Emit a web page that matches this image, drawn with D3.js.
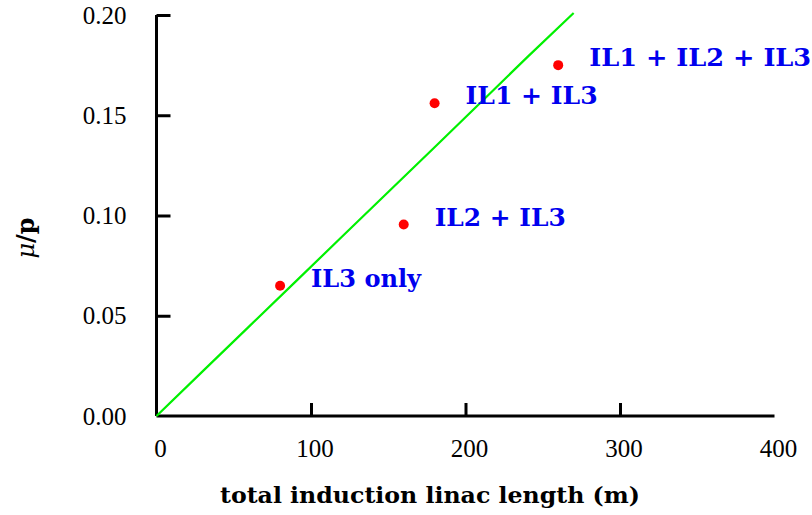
<!DOCTYPE html>
<html><head><meta charset="utf-8">
<script src="https://cdn.jsdelivr.net/npm/d3@7"></script>
<style>body{margin:0;background:#fff}svg{display:block}</style>
</head><body>
<svg id="c" width="812" height="515"></svg>
<script>
const xTicks = [0, 100, 200, 300, 400];
const yTicks = [0.00, 0.05, 0.10, 0.15, 0.20];
const lineX = [0, 30, 60, 90, 120, 150, 180, 210, 240, 270];
const lineY = [0, 0.0224, 0.0447, 0.067, 0.0894, 0.1117, 0.134, 0.1565, 0.179, 0.201];
const pointX = [80, 160, 180, 260];
const pointY = [0.065, 0.0955, 0.156, 0.175];
const pointLabels = ["IL3 only", "IL2 + IL3", "IL1 + IL3", "IL1 + IL2 + IL3"];
const labelWidths = [110, 131, 132, 222];

const svg = d3.select("#c");
const x = d3.scaleLinear().domain([0, 400]).range([156.5, 774.5]);
const y = d3.scaleLinear().domain([0, 0.20]).range([416, 15]);
const serif = "'DejaVu Serif', 'Liberation Serif', serif";
const tickFont = "'Liberation Serif', 'DejaVu Serif', serif";

// axes
const gx = svg.append("g").attr("transform", "translate(0,416)")
  .call(d3.axisBottom(x).tickValues(xTicks).tickSize(-13).tickPadding(23).tickFormat(d3.format("d")));
const gy = svg.append("g").attr("transform", "translate(156.5,0)")
  .call(d3.axisLeft(y).tickValues(yTicks).tickSize(-14).tickPadding(30).tickFormat(d3.format(".2f")));
[gx, gy].forEach(g => {
  g.select(".domain").attr("stroke", "#000").attr("stroke-width", 3);
  g.selectAll(".tick line").attr("stroke", "#000").attr("stroke-width", 3);
  g.selectAll(".tick text").attr("font-family", tickFont).attr("font-size", 25).attr("fill", "#000");
});
gx.selectAll(".tick text").attr("dx", 3.5);
gx.select(".domain").attr("d", `M${x(0)},0H${x(400)}`);
gy.select(".domain").attr("d", `M0,${y(0)}V${y(0.2)}`);
gx.selectAll(".tick").filter(d => d === 0 || d === 400).select("line").remove();
gy.selectAll(".tick").filter(d => d === 0).select("line").remove();

// line
const lineData = lineX.map((v, i) => [v, lineY[i]]);
svg.append("path").datum(lineData)
  .attr("d", d3.line().x(d => x(d[0])).y(d => y(d[1])))
  .attr("fill", "none").attr("stroke", "#00f000").attr("stroke-width", 2.2);

// points
const pts = pointX.map((v, i) => ({x: v, y: pointY[i], label: pointLabels[i], w: labelWidths[i]}));
svg.selectAll("circle.p").data(pts).enter().append("circle")
  .attr("cx", d => x(d.x)).attr("cy", d => y(d.y)).attr("r", 5).attr("fill", "#ff0000");
svg.selectAll("text.lab").data(pts).enter().append("text")
  .attr("x", d => x(d.x) + 31).attr("y", d => y(d.y) + 1)
  .attr("font-family", serif).attr("font-weight", "bold").attr("font-size", 24)
  .attr("textLength", d => d.w).attr("lengthAdjust", "spacingAndGlyphs")
  .attr("fill", "#0000ee").text(d => d.label);

// axis titles
svg.append("text").attr("x", 220).attr("y", 503)
  .attr("font-family", serif).attr("font-weight", "bold").attr("font-size", 22)
  .attr("textLength", 420).attr("lengthAdjust", "spacingAndGlyphs")
  .text("total induction linac length (m)");
svg.append("text").attr("transform", "translate(34,238) rotate(-90)").attr("text-anchor", "middle")
  .attr("font-family", serif).attr("font-weight", "bold").attr("font-size", 24)
  .html('<tspan font-style="italic" font-weight="normal">μ</tspan>/p');
</script>
</body></html>
